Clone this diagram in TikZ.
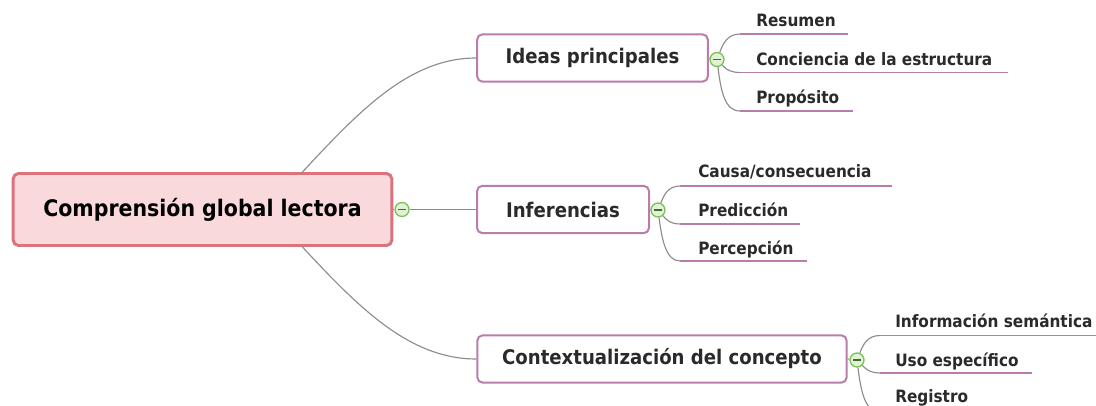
\documentclass[tikz,border=0pt]{standalone}
\usepackage{fontspec}
\setmainfont{DejaVu Sans Condensed}
\begin{document}
\definecolor{rootfill}{HTML}{F9D9DC}
\definecolor{rootline}{HTML}{DB727C}
\definecolor{subline}{HTML}{B97DAB}
\definecolor{connc}{HTML}{8C8C8C}
\definecolor{gfill}{HTML}{E2F3D5}
\definecolor{gline}{HTML}{78C257}
\definecolor{txt}{HTML}{2A2A2A}
\begin{tikzpicture}[x=0.75pt,y=-0.75pt]
\tikzset{
  rootbox/.style={draw=rootline,fill=rootfill,line width=2.2pt,rounded corners=4pt,
    minimum width=284pt,minimum height=54pt,inner sep=0pt,
    font=\fontsize{17.1}{19}\selectfont\bfseries,text=black},
  subbox/.style={draw=subline,fill=white,line width=1.5pt,rounded corners=4pt,
    minimum height=35.5pt,inner sep=0pt,
    font=\fontsize{15.1}{17}\selectfont\bfseries,text=txt},
  leaf/.style={anchor=base west,inner sep=0pt,font=\fontsize{12.75}{15}\selectfont\bfseries,text=txt},
  uline/.style={draw=subline,line width=1.1pt},
  conn/.style={draw=connc,line width=0.85pt},
  circ/.style={circle,draw=gline,fill=gfill,line width=1pt,minimum size=10.5pt,inner sep=0pt,
    path picture={\draw[draw=gline!55!black,line width=1pt]
      ([xshift=-3pt]path picture bounding box.center) -- ([xshift=3pt]path picture bounding box.center);}}
}
\useasboundingbox (0,0) rectangle (1096,406);

% main nodes
\node[rootbox] (root) at (202.5,209.5) {Comprensión global lectora};
\node[subbox,minimum width=173pt] (ideas) at (592.5,58) {Ideas principales};
\node[subbox,minimum width=129pt] (inf) at (563,209.5) {Inferencias};
\node[subbox,minimum width=277pt] (ctx) at (662,359) {Contextualización del concepto};

% collapse markers
\node[circ] (g0) at (402,209.5) {};
\node[circ] (g1) at (717,59.5) {};
\node[circ] (g2) at (658,210) {};
\node[circ] (g3) at (857,360) {};

% root connectors
\coordinate (rt) at (302,172.5);
\coordinate (rb) at (302,246.5);
\draw[conn] (rt) .. controls (360,110) and (410,58) .. (ideas.west);
\draw[conn] (rb) .. controls (360,309) and (410,359) .. (ctx.west);
\draw[conn] (root.east) -- (g0);
\draw[conn] (g0) -- (inf.west);
\draw[conn] (ideas.east) -- (g1);
\draw[conn] (inf.east) -- (g2);
\draw[conn] (ctx.east) -- (g3);

% Ideas principales children
\node[leaf] (a1) at (756,27) {Resumen};
\node[leaf] (a2) at (756,66) {Conciencia de la estructura};
\node[leaf] (a3) at (756,104) {Propósito};
\coordinate (ua1) at (740,34);   \coordinate (ea1) at (848,34);
\coordinate (ua2) at (740,72.5); \coordinate (ea2) at (1008,72.5);
\coordinate (ua3) at (740,111);  \coordinate (ea3) at (853,111);
\draw[uline] (ua1) -- (ea1);
\draw[uline] (ua2) -- (ea2);
\draw[uline] (ua3) -- (ea3);
\draw[conn] (g1) .. controls (723,44) and (727,34) .. (ua1);
\draw[conn] (g1) .. controls (724,67) and (728,72.5) .. (ua2);
\draw[conn] (g1) .. controls (721,92) and (725,111) .. (ua3);

% Inferencias children
\node[leaf] (b1) at (698,178) {Causa/consecuencia};
\node[leaf] (b2) at (698,217) {Predicción};
\node[leaf] (b3) at (698,254) {Percepción};
\coordinate (ub1) at (680,186);   \coordinate (eb1) at (892,186);
\coordinate (ub2) at (680,224);   \coordinate (eb2) at (800,224);
\coordinate (ub3) at (680,261);   \coordinate (eb3) at (807,261);
\draw[uline] (ub1) -- (eb1);
\draw[uline] (ub2) -- (eb2);
\draw[uline] (ub3) -- (eb3);
\draw[conn] (g2) .. controls (664,195) and (668,186) .. (ub1);
\draw[conn] (g2) .. controls (665,218) and (669,224) .. (ub2);
\draw[conn] (g2) .. controls (662,240) and (666,261) .. (ub3);

% Contextualizacion children
\node[leaf] (c1) at (895,327) {Información semántica};
\node[leaf] (c2) at (895,366) {Uso específico};
\node[leaf] (c3) at (895,402.5) {Registro};
\coordinate (uc1) at (880,335.5); \coordinate (ec1) at (1100,335.5);
\coordinate (uc2) at (880,373);   \coordinate (ec2) at (1032,373);
\coordinate (uc3) at (880,412);   \coordinate (ec3) at (980,412);
\draw[uline] (uc1) -- (ec1);
\draw[uline] (uc2) -- (ec2);
\draw[uline] (uc3) -- (ec3);
\draw[conn] (g3) .. controls (863,345) and (867,335.5) .. (uc1);
\draw[conn] (g3) .. controls (864,367) and (868,373) .. (uc2);
\draw[conn] (g3) .. controls (861,392) and (865,412) .. (uc3);
\end{tikzpicture}
\end{document}
